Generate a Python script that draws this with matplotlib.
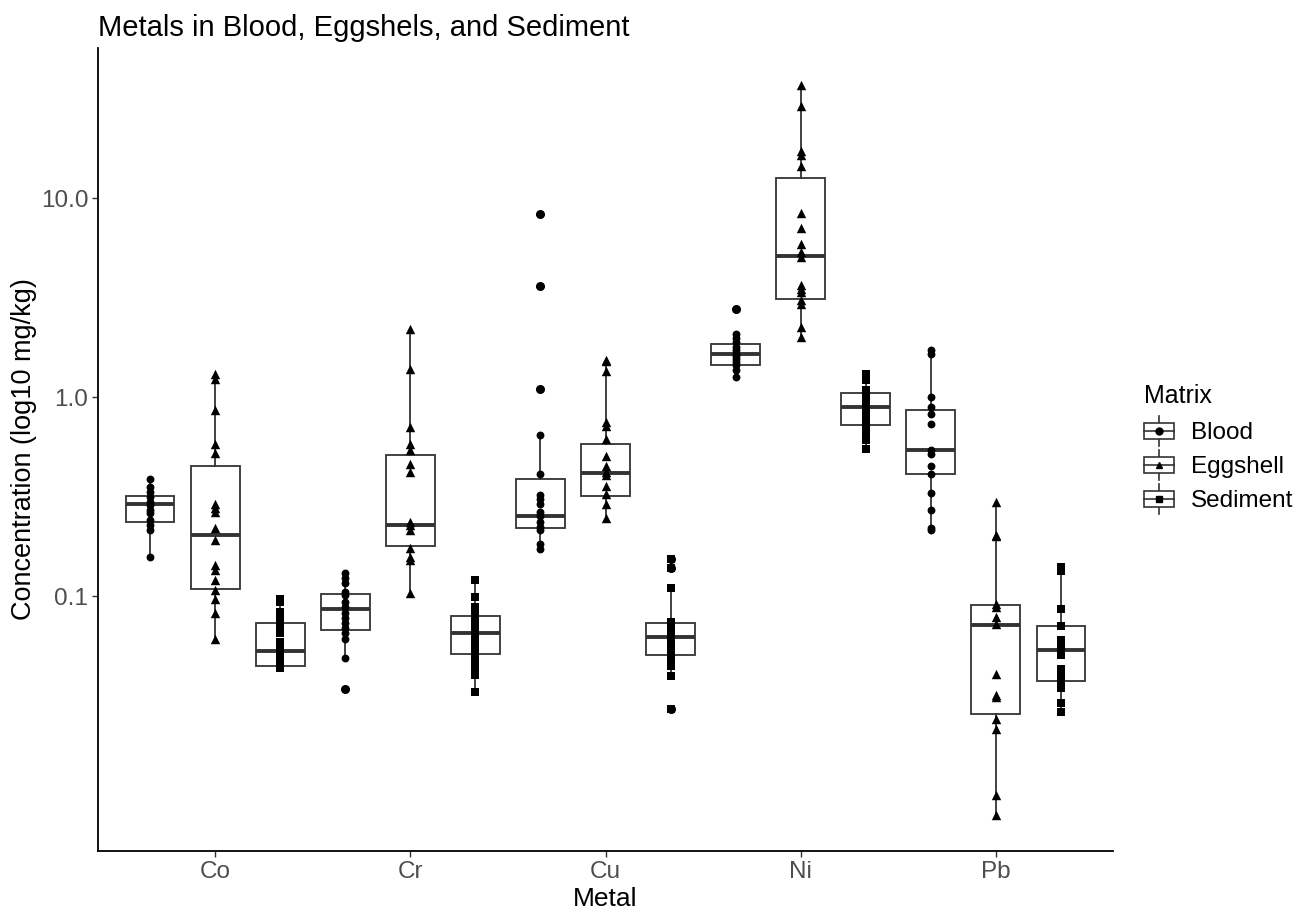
import matplotlib.pyplot as plt
from matplotlib.legend_handler import HandlerBase
from matplotlib.lines import Line2D
from matplotlib.patches import Rectangle
import numpy as np

plt.rcParams['font.family'] = ['Liberation Sans', 'DejaVu Sans']

metals = ["Co", "Cr", "Cu", "Ni", "Pb"]
matrices = ["Blood", "Eggshell", "Sediment"]
shapes = ["o", "^", "s"]

# concentrations, one list per metal
blood_pts = [
    [0.387, 0.353, 0.333, 0.314, 0.297, 0.287, 0.271, 0.261, 0.241, 0.227, 0.215, 0.157],
    [0.130, 0.123, 0.116, 0.105, 0.101, 0.0936, 0.0884, 0.0818, 0.0773, 0.0729, 0.0688, 0.0650, 0.0612, 0.0490, 0.0340],
    [8.33, 3.62, 1.10, 0.648, 0.411, 0.324, 0.307, 0.290, 0.265, 0.252, 0.237, 0.223, 0.215, 0.183, 0.172],
    [2.79, 2.09, 1.98, 1.89, 1.80, 1.72, 1.66, 1.61, 1.55, 1.50, 1.45, 1.37, 1.26],
    [1.72, 1.66, 1.005, 0.892, 0.824, 0.737, 0.546, 0.521, 0.453, 0.413, 0.329, 0.270, 0.221, 0.214],
]
egg_pts = [
    [1.315, 1.242, 0.861, 0.585, 0.525, 0.292, 0.279, 0.265, 0.221, 0.191, 0.143, 0.135, 0.120, 0.107, 0.0973, 0.0818, 0.0612],
    [2.213, 1.383, 0.709, 0.585, 0.542, 0.464, 0.421, 0.236, 0.227, 0.215, 0.174, 0.157, 0.152, 0.104],
    [1.547, 1.52, 1.362, 0.754, 0.719, 0.618, 0.506, 0.449, 0.423, 0.406, 0.360, 0.326, 0.290, 0.247],
    [37.4, 29.1, 17.4, 16.6, 14.5, 8.44, 7.13, 5.92, 5.37, 5.07, 3.66, 3.52, 3.38, 3.07, 2.96, 2.25, 2.00],
    [0.298, 0.204, 0.200, 0.0918, 0.0882, 0.0781, 0.0722, 0.0405, 0.0319, 0.0312, 0.0241, 0.0214, 0.0100, 0.00798],
]
sed_pts = [
    [0.0972, 0.0936, 0.0828, 0.0793, 0.0729, 0.0690, 0.0652, 0.0589, 0.0546, 0.0517, 0.0488, 0.0460, 0.0435],
    [0.120, 0.0991, 0.0884, 0.0834, 0.0787, 0.0743, 0.0701, 0.0662, 0.0624, 0.0589, 0.0556, 0.0525, 0.0495, 0.0468, 0.0425, 0.0401, 0.0330],
    [0.153, 0.138, 0.110, 0.0745, 0.0707, 0.0667, 0.0630, 0.0594, 0.0561, 0.0529, 0.0499, 0.0471, 0.0445, 0.0399, 0.0270],
    [1.315, 1.217, 1.084, 1.023, 0.966, 0.912, 0.861, 0.812, 0.766, 0.723, 0.683, 0.645, 0.608, 0.552],
    [0.140, 0.134, 0.0857, 0.0708, 0.0603, 0.0567, 0.0535, 0.0504, 0.0430, 0.0401, 0.0374, 0.0345, 0.0289, 0.0261],
]

# box stats per metal: whisker low, q1, median, q3, whisker high
blood_box = [
    [0.157, 0.235, 0.290, 0.318, 0.387],
    [0.0490, 0.0675, 0.0857, 0.102, 0.130],
    [0.172, 0.219, 0.254, 0.386, 0.648],
    [1.26, 1.45, 1.66, 1.85, 2.09],
    [0.214, 0.413, 0.546, 0.867, 1.72],
]
egg_box = [
    [0.0612, 0.109, 0.204, 0.450, 1.315],
    [0.104, 0.178, 0.229, 0.515, 2.213],
    [0.247, 0.320, 0.418, 0.582, 1.547],
    [2.00, 3.11, 5.11, 12.65, 37.4],
    [0.00798, 0.0256, 0.0713, 0.0899, 0.298],
]
sed_box = [
    [0.0435, 0.0445, 0.0531, 0.0729, 0.0972],
    [0.0330, 0.0509, 0.0654, 0.0793, 0.120],
    [0.0399, 0.0507, 0.0623, 0.0731, 0.110],
    [0.552, 0.729, 0.894, 1.051, 1.315],
    [0.0261, 0.0374, 0.0535, 0.0708, 0.140],
]

line_col = "#333333"
offsets = [-1 / 3, 0, 1 / 3]
marker_size = {"o": 32, "^": 46, "s": 28}


class BoxKey(HandlerBase):
    # small boxplot glyph like the ggplot legend key
    def create_artists(self, legend, orig_handle, xdescent, ydescent,
                       width, height, fontsize, trans):
        x0, y0 = -xdescent, -ydescent
        cx = x0 + width / 2
        box = Rectangle((x0, y0 + 0.24 * height), width, 0.52 * height,
                        facecolor="white", edgecolor=line_col, lw=1.2)
        w1 = Line2D([cx, cx], [y0, y0 + 0.24 * height], color=line_col, lw=1.2)
        w2 = Line2D([cx, cx], [y0 + 0.76 * height, y0 + height], color=line_col, lw=1.2)
        med = Line2D([x0, x0 + width], [y0 + height / 2] * 2, color=line_col, lw=1.2)
        dot = Line2D([cx], [y0 + height / 2], marker=orig_handle.get_marker(),
                     markersize=5, color="black", linestyle="none")
        out = [w1, w2, box, med, dot]
        for a in out:
            a.set_transform(trans)
        return out


fig = plt.figure(figsize=(12.96, 9.09), dpi=100)
ax = fig.add_axes([98 / 1296, 1 - 851 / 909, (1113 - 98) / 1296, (851 - 48) / 909])

all_pts = []
for j, (pts, box, mk) in enumerate(zip([blood_pts, egg_pts, sed_pts],
                                        [blood_box, egg_box, sed_box], shapes)):
    pos = np.arange(len(metals)) + offsets[j]
    stats = []
    for p, b in zip(pts, box):
        lo, q1, med, q3, hi = b
        stats.append(dict(whislo=lo, q1=q1, med=med, q3=q3, whishi=hi,
                          fliers=[v for v in p if v < lo or v > hi]))
    ax.bxp(stats, positions=pos, widths=0.25, showcaps=False, patch_artist=True,
           boxprops=dict(facecolor="white", edgecolor=line_col, linewidth=1.3),
           medianprops=dict(color=line_col, linewidth=2.8, solid_capstyle="butt"),
           whiskerprops=dict(color=line_col, linewidth=1.3),
           flierprops=dict(marker="o", markerfacecolor="black", markeredgecolor="black",
                           markersize=5.5),
           manage_ticks=False)
    for x, p in zip(pos, pts):
        ax.scatter(np.full(len(p), x), p, marker=mk, s=marker_size[mk],
                   color="black", linewidths=0, zorder=3)
        all_pts.extend(p)

ax.set_yscale("log")
lmin, lmax = np.log10(min(all_pts)), np.log10(max(all_pts))
pad = 0.05 * (lmax - lmin)
ax.set_ylim(10 ** (lmin - pad), 10 ** (lmax + pad))
ax.set_xlim(-0.6, len(metals) - 0.4)

ax.set_yticks([0.1, 1, 10])
ax.set_yticklabels(["0.1", "1.0", "10.0"])
ax.yaxis.set_minor_locator(plt.NullLocator())
ax.set_xticks(np.arange(len(metals)))
ax.set_xticklabels(metals)
ax.tick_params(axis="both", length=4, width=1, color=line_col, labelcolor="#4D4D4D",
               labelsize=17.5, pad=3)

for s in ["top", "right"]:
    ax.spines[s].set_visible(False)
for s in ["left", "bottom"]:
    ax.spines[s].set_linewidth(1.3)

ax.set_xlabel("Metal", fontsize=19, labelpad=3)
ax.set_ylabel("Concentration (log10 mg/kg)", fontsize=19.5, labelpad=3)
ax.set_title("Metals in Blood, Eggshels, and Sediment", loc="left", fontsize=21, pad=9)

handles = [Line2D([], [], marker=m, color="black", linestyle="none") for m in shapes]
leg = fig.legend(handles, matrices, loc="center left", bbox_to_anchor=(1122 / 1296, 0.506),
                 frameon=False, title="Matrix", title_fontsize=18, fontsize=17.5,
                 alignment="left", handlelength=1.23, handleheight=1.52, labelspacing=0.165,
                 handletextpad=0.7, handler_map={h: BoxKey() for h in handles})
leg._legend_box.sep = 6  # gap under the legend title

fig.savefig("out.png", dpi=100)
